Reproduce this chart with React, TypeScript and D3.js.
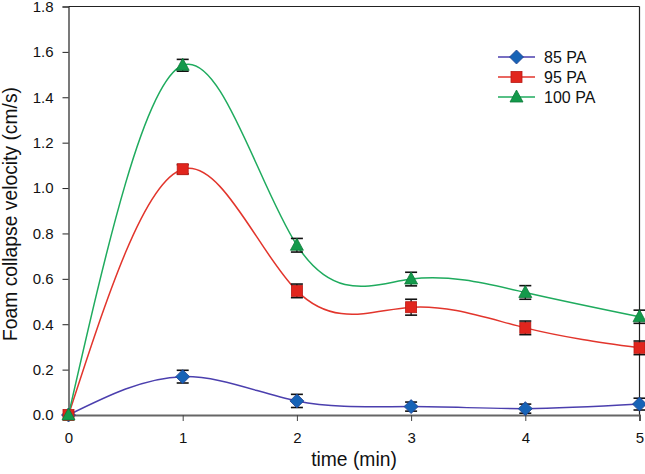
import { useEffect, useRef } from 'react'
import * as d3 from 'd3'

const times = [0, 1, 2, 3, 4, 5]
const xTicks = [0, 1, 2, 3, 4, 5]
const yTicks = [0, 0.2, 0.4, 0.6, 0.8, 1.0, 1.2, 1.4, 1.6, 1.8]

const pa85 = [0, 0.169, 0.062, 0.037, 0.028, 0.048]
const pa85Err = [0, 0.028, 0.029, 0.02, 0.02, 0.026]
const pa95 = [0, 1.083, 0.547, 0.475, 0.384, 0.296]
const pa95Err = [0, 0.02, 0.03, 0.035, 0.03, 0.03]
const pa100 = [0, 1.541, 0.748, 0.599, 0.54, 0.433]
const pa100Err = [0, 0.026, 0.03, 0.03, 0.03, 0.029]

const series = [
  { name: '85 PA', vals: pa85, errs: pa85Err, line: '#4b3fae', fill: '#1763b6', stroke: '#213f8f', shape: 'diamond' },
  { name: '95 PA', vals: pa95, errs: pa95Err, line: '#e2352c', fill: '#e1251d', stroke: '#b81a14', shape: 'square' },
  { name: '100 PA', vals: pa100, errs: pa100Err, line: '#1fab5e', fill: '#139a4b', stroke: '#0e7a3a', shape: 'triangle' },
]

const FONT = '"Liberation Sans", Arial, sans-serif'

function marker(g: d3.Selection<SVGGElement, unknown, null, undefined>, shape: string, x: number, y: number, fill: string, stroke: string) {
  if (shape === 'diamond') {
    g.append('path').attr('d', `M${x},${y-7}L${x+7},${y}L${x},${y+7}L${x-7},${y}Z`).attr('fill', fill).attr('stroke', stroke).attr('stroke-width', 0.8)
  } else if (shape === 'square') {
    g.append('rect').attr('x', x-5.5).attr('y', y-5.5).attr('width', 11).attr('height', 11).attr('fill', fill).attr('stroke', stroke).attr('stroke-width', 0.8)
  } else {
    g.append('path').attr('d', `M${x},${y-7}L${x+6.5},${y+5}L${x-6.5},${y+5}Z`).attr('fill', fill).attr('stroke', stroke).attr('stroke-width', 0.8)
  }
}

export default function App() {
  const ref = useRef<SVGSVGElement>(null)

  useEffect(() => {
    const svg = d3.select(ref.current!)
    svg.selectAll('*').remove()
    const L = 68.5, R = 639.5, T = 6.5, B = 415
    const x = d3.scaleLinear().domain([0, 5]).range([L, R])
    const y = d3.scaleLinear().domain([0, 1.8]).range([B, T])

    // frame
    svg.append('line').attr('x1', L).attr('x2', R).attr('y1', T).attr('y2', T).attr('stroke', '#222').attr('stroke-width', 1.2)
    svg.append('line').attr('x1', R).attr('x2', R).attr('y1', T).attr('y2', B).attr('stroke', '#222').attr('stroke-width', 1.2)

    const yAx = svg.append('g').attr('transform', `translate(${L},0)`)
      .call(d3.axisLeft(y).tickValues(yTicks).tickFormat(d3.format('.1f')).tickSize(6).tickPadding(9))
    yAx.select('.domain').attr('stroke', '#222').attr('stroke-width', 1.2)
    yAx.selectAll('.tick line').attr('stroke', '#222')
    yAx.selectAll('text').attr('font-family', FONT).attr('font-size', 15).attr('fill', '#111')

    const xAx = svg.append('g').attr('transform', `translate(0,${B})`)
      .call(d3.axisBottom(x).tickValues(xTicks).tickFormat(d3.format('d')).tickSize(6).tickPadding(11))
    xAx.select('.domain').attr('stroke', '#666').attr('stroke-width', 2)
    xAx.selectAll('.tick line').attr('stroke', '#444')
    xAx.selectAll('text').attr('font-family', FONT).attr('font-size', 15).attr('fill', '#111')

    svg.append('text').attr('x', (L + R) / 2).attr('y', 466).attr('text-anchor', 'middle')
      .attr('font-family', FONT).attr('font-size', 19.3).attr('fill', '#111').text('time (min)')
    svg.append('text').attr('transform', `translate(17,214) rotate(-90)`).attr('text-anchor', 'middle')
      .attr('font-family', FONT).attr('font-size', 19.3).attr('fill', '#111').text('Foam collapse velocity (cm/s)')

    const lineGen = d3.line<number>().x((_, i) => x(times[i])).y(v => y(v)).curve(d3.curveNatural)
    series.forEach(s => {
      svg.append('path').datum(s.vals).attr('fill', 'none').attr('stroke', s.line).attr('stroke-width', 1.5).attr('d', lineGen)
    })

    const eg = svg.append('g')
    series.forEach(s => {
      s.vals.forEach((v, i) => {
        const e = s.errs[i]
        if (!e) return
        const cx = x(times[i])
        eg.append('line').attr('x1', cx).attr('x2', cx).attr('y1', y(v + e)).attr('y2', y(v - e)).attr('stroke', '#111').attr('stroke-width', 1.3)
        ;[v + e, v - e].forEach(w => eg.append('line').attr('x1', cx - 6).attr('x2', cx + 6).attr('y1', y(w)).attr('y2', y(w)).attr('stroke', '#111').attr('stroke-width', 1.6))
      })
    })

    const mg = svg.append('g')
    series.forEach(s => {
      s.vals.forEach((v, i) => marker(mg, s.shape, x(times[i]), y(v), s.fill, s.stroke))
    })

    // legend
    const lg = svg.append('g')
    series.forEach((s, i) => {
      const ly = 57 + i * 20
      lg.append('line').attr('x1', 498).attr('x2', 535).attr('y1', ly).attr('y2', ly).attr('stroke', s.line).attr('stroke-width', 1.5)
      marker(lg, s.shape, 516.5, ly, s.fill, s.stroke)
      lg.append('text').attr('x', 544).attr('y', ly + 5.5).attr('font-family', FONT).attr('font-size', 16).attr('fill', '#111').text(s.name)
    })
  }, [])

  return (
    <div style={{ position: 'absolute', left: 0, top: 0 }}>
      <svg ref={ref} width={645} height={474} style={{ display: 'block', background: '#fff' }} />
    </div>
  )
}
